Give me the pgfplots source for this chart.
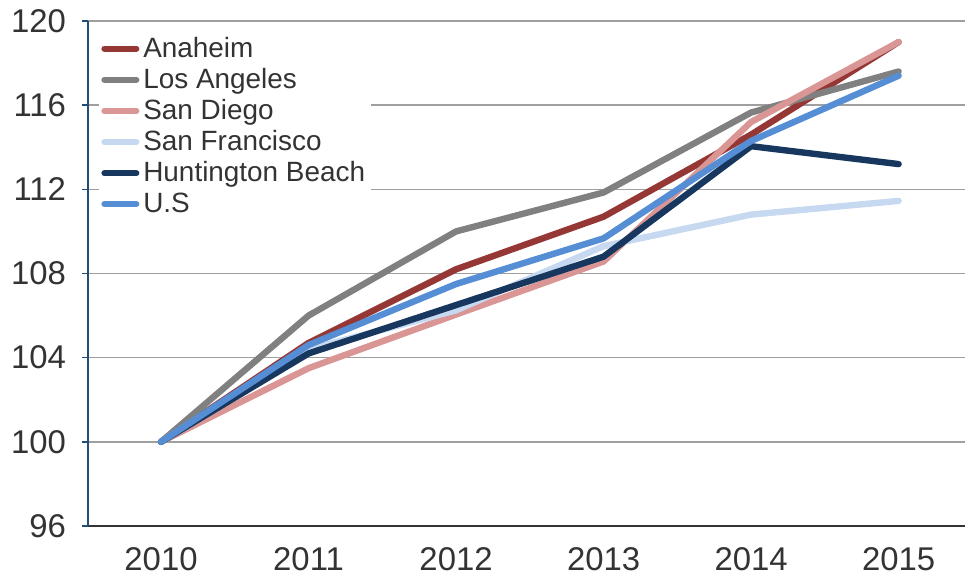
\documentclass[border=0pt]{standalone}
\usepackage{pgfplots}
\pgfplotsset{compat=1.18}
\usepackage{fontspec}
\setmainfont{Liberation Sans}
\definecolor{cAna}{HTML}{953735}
\definecolor{cLA}{HTML}{808080}
\definecolor{cSD}{HTML}{D99694}
\definecolor{cSF}{HTML}{C6D9F1}
\definecolor{cHB}{HTML}{17375E}
\definecolor{cUS}{HTML}{558ED5}
\definecolor{cTxt}{HTML}{333333}
\definecolor{cYax}{HTML}{1F4E79}
\begin{document}
\begin{tikzpicture}
\useasboundingbox (-44bp,-26bp) rectangle (438.5bp,263bp);
\begin{axis}[
  at={(0,0)}, anchor=south west,
  scale only axis, width=438.5bp, height=252.5bp,
  xmin=2009.505, xmax=2015.45, ymin=96, ymax=120,
  xtick={2010,2011,2012,2013,2014,2015},
  ytick={96,100,104,108,112,116,120},
  /pgf/number format/assume math mode=true,
  x tick label style={/pgf/number format/1000 sep={}, yshift=-4bp},
  y tick label style={xshift=-4.5bp},
  ticklabel style={font=\fontsize{16.5}{18}\selectfont, text=cTxt},
  axis x line*=bottom, axis y line*=left,
  x axis line style={draw=black!80, line width=0.8bp, -},
  y axis line style={draw=cYax, line width=0.8bp, -},
  xtick style={draw=none},
  ytick style={draw=cYax, line width=0.8bp},
  tick align=outside, major tick length=3bp,
  ymajorgrids, grid style={draw=gray!75, line width=0.8bp},
  clip=false,
  legend style={at={(rel axis cs:0.0125,0.985)}, anchor=north west, draw=none, fill=white,
    font=\fontsize{14}{15}\selectfont, text=cTxt, inner xsep=1bp, inner ysep=2bp,
    row sep=0bp, /tikz/every even column/.append style={column sep=0bp}},
  legend cell align=left,
  legend image code/.code={\draw[#1, line width=3bp, line cap=round] (0bp,0bp) -- (16bp,0bp);},
  every axis plot/.append style={line width=3.2bp, line cap=round, line join=round},
]
\addplot[cAna] coordinates {(2010,100) (2011,104.7) (2012,108.2) (2013,110.7) (2014,114.6) (2015,119.0)};
\addlegendentry{Anaheim}
\addplot[cLA] coordinates {(2010,100) (2011,106.0) (2012,110.0) (2013,111.85) (2014,115.65) (2015,117.6)};
\addlegendentry{Los Angeles}
\addplot[cSD] coordinates {(2010,100) (2011,103.5) (2012,106.05) (2013,108.57) (2014,115.2) (2015,119.0)};
\addlegendentry{San Diego}
\addplot[cSF] coordinates {(2010,100) (2011,104.4) (2012,106.25) (2013,109.3) (2014,110.8) (2015,111.45)};
\addlegendentry{San Francisco}
\addplot[cHB] coordinates {(2010,100) (2011,104.2) (2012,106.5) (2013,108.8) (2014,114.05) (2015,113.2)};
\addlegendentry{Huntington Beach}
\addplot[cUS] coordinates {(2010,100) (2011,104.6) (2012,107.5) (2013,109.67) (2014,114.3) (2015,117.4)};
\addlegendentry{U.S}
\end{axis}
\end{tikzpicture}
\end{document}
